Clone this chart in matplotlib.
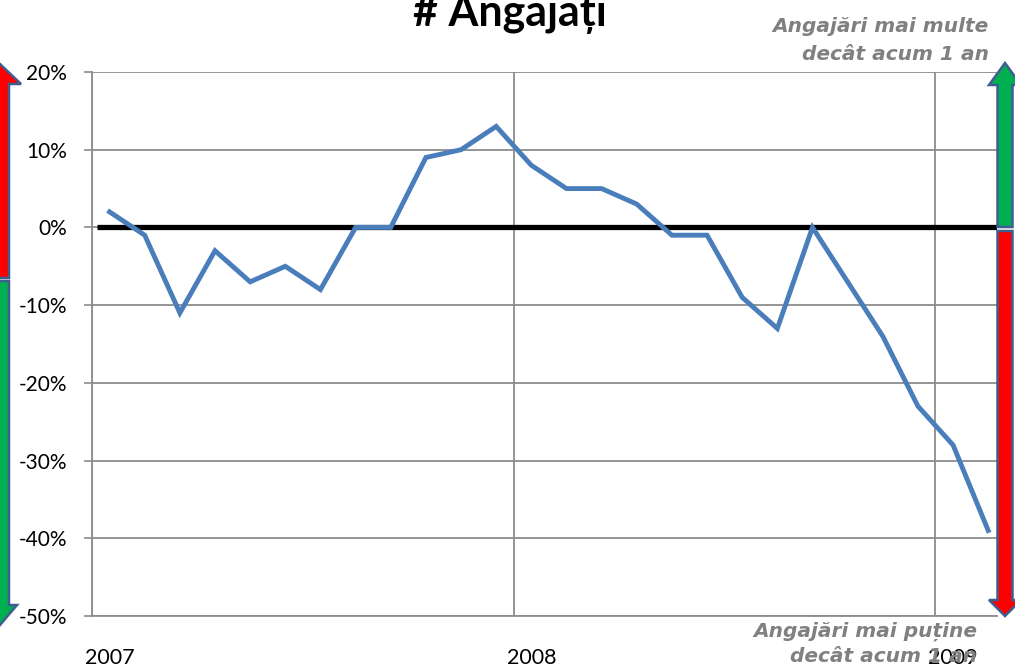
import matplotlib.pyplot as plt
from matplotlib.patches import Polygon
from matplotlib.ticker import FixedLocator

# monthly change in number of employees, Jan 2007 .. Feb 2009
values = [2, -1, -11, -3, -7, -5, -8, 0, 0, 9, 10, 13, 8, 5, 5, 3,
          -1, -1, -9, -13, 0, -7, -14, -23, -28, -39]
years = ['2007', '2008', '2009']
yticks = [-50, -40, -30, -20, -10, 0, 10, 20]

W, H = 1015, 670
fig = plt.figure(figsize=(W / 100, H / 100), dpi=100)
ax = fig.add_axes([92 / W, 1 - 616 / H, (997 - 92) / W, (616 - 72) / H])

months = [i + 0.5 for i in range(len(values))]
grid_c = '#8c8c8c'

ax.plot([0.15, 25.75], [0, 0], color='black', lw=3.8, zorder=3, solid_capstyle='butt')
ax.plot(months, values, color='#4a7ebb', lw=3.5, zorder=4, solid_joinstyle='miter')

ax.set_xlim(0, 25.75)
ax.set_ylim(-50, 20)
ax.set_yticks(yticks)
ax.set_yticklabels([f'{v}%' for v in yticks], fontfamily='Lato', fontsize=15)
ax.tick_params(axis='y', length=6, width=1.2, color=grid_c, pad=12)

ax.xaxis.set_major_locator(FixedLocator([0, 12, 24]))
ax.xaxis.set_minor_locator(FixedLocator([0.5, 12.5, 24.5]))
ax.set_xticklabels([])
ax.set_xticklabels(years, minor=True, fontfamily='Lato', fontsize=15.5)
ax.tick_params(axis='x', which='both', length=0, pad=23)

ax.grid(True, which='major', color=grid_c, lw=1.3)
ax.set_axisbelow(True)
for s in ['top', 'right']:
    ax.spines[s].set_visible(False)
for s in ['left', 'bottom']:
    ax.spines[s].set_color(grid_c)
    ax.spines[s].set_linewidth(1.3)

fig.text(510 / W, 1 - 26 / H, '# Angajați', ha='center', va='baseline',
         fontfamily='Lato', fontweight='bold', fontsize=31)

note_kw = dict(ha='right', va='baseline', color='#808080', fontfamily='DejaVu Sans',
               fontweight='bold', fontstyle='italic', fontsize=14.5, zorder=10)
fig.text(989 / W, 1 - 32 / H, 'Angajări mai multe', **note_kw)
fig.text(989 / W, 1 - 60 / H, 'decât acum 1 an', **note_kw)
fig.text(977 / W, 1 - 637 / H, 'Angajări mai puține', **note_kw)
fig.text(977 / W, 1 - 662 / H, 'decât acum 1 an', **note_kw)


def arrow(cx, y0, y1, half_w, head_w, head_len, color):
    # vertical block arrow from y0 (tail) to y1 (tip), pixel coords from top
    d = 1 if y1 > y0 else -1
    sh = y1 - d * head_len
    pts = [(cx - half_w, y0), (cx + half_w, y0), (cx + half_w, sh), (cx + head_w, sh),
           (cx, y1), (cx - head_w, sh), (cx - half_w, sh)]
    pts = [(x / W, 1 - y / H) for x, y in pts]
    fig.patches.append(Polygon(pts, closed=True, facecolor=color, edgecolor='#3d5f8f',
                               lw=1.8, transform=fig.transFigure, zorder=5))


red, green = '#ff0000', '#00b050'
arrow(0, 278, 64, 9, 21, 20, red)
arrow(0, 281, 625, 9, 17, 20, green)
arrow(1005, 227, 63, 7.5, 16, 22, green)
arrow(1005, 231, 616, 7.5, 16, 16, red)

fig.savefig('out.png', dpi=100)
